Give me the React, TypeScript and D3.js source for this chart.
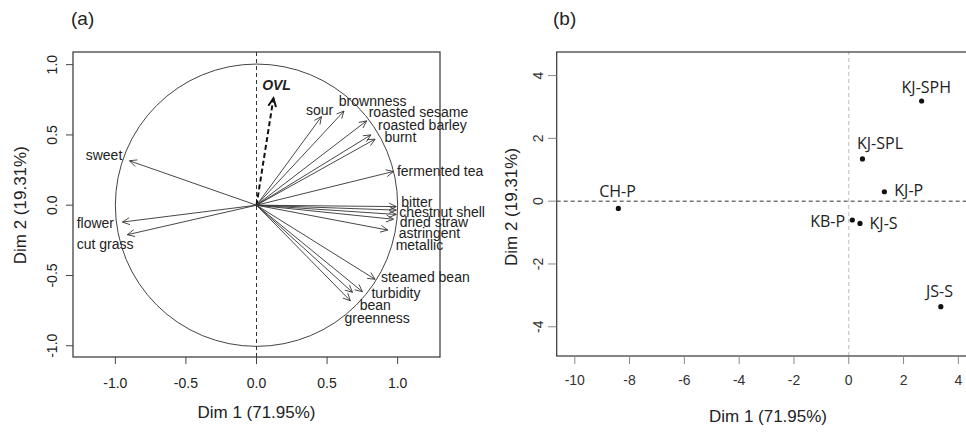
import React, { useEffect, useRef } from "react";
import * as d3 from "d3";

// panel (a): variable loadings on Dim 1 / Dim 2
const varNames = [
  "OVL", "sour", "brownness", "roasted sesame", "roasted barley", "burnt",
  "fermented tea", "bitter", "chestnut shell", "dried straw", "astringent",
  "metallic", "steamed bean", "turbidity", "bean", "greenness",
  "sweet", "flower", "cut grass",
];
const varDim1 = [0.12, 0.46, 0.62, 0.78, 0.81, 0.84, 0.97, 0.99, 0.99, 0.99, 0.97, 0.93, 0.84, 0.75, 0.68, 0.665, -0.9, -0.95, -0.915];
const varDim2 = [0.76, 0.63, 0.67, 0.6, 0.5, 0.47, 0.24, -0.01, -0.035, -0.066, -0.1, -0.177, -0.527, -0.615, -0.62, -0.68, 0.316, -0.12, -0.21];
// where R put the labels (left edge x, middle y, in data units)
const varLabelX = [0.04, 0.35, 0.583, 0.795, 0.861, 0.906, 0.995, 1.026, 1.012, 1.014, 1.007, 0.986, 0.882, 0.814, 0.731, 0.623, -1.21, -1.274, -1.274];
const varLabelY = [0.854, 0.677, 0.743, 0.66, 0.571, 0.488, 0.24, 0.026, -0.05, -0.12, -0.196, -0.285, -0.514, -0.627, -0.708, -0.804, 0.358, -0.125, -0.278];
const loadTicks = [-1.0, -0.5, 0.0, 0.5, 1.0];

// panel (b): sample scores
const sampleNames = ["KJ-SPH", "KJ-SPL", "KJ-P", "CH-P", "KB-P", "KJ-S", "JS-S"];
const sampleDim1 = [2.66, 0.5, 1.3, -8.41, 0.13, 0.41, 3.36];
const sampleDim2 = [3.19, 1.345, 0.3, -0.23, -0.6, -0.71, -3.36];
const sampleLabelX = [2.83, 1.14, 2.19, -8.44, -0.77, 1.27, 3.31];
const sampleLabelY = [3.65, 1.85, 0.35, 0.32, -0.625, -0.71, -2.85];
const scoreXTicks = [-10, -8, -6, -4, -2, 0, 2, 4];
const scoreYTicks = [-4, -2, 0, 2, 4];

const font = "'Liberation Sans', Arial, sans-serif";

const App = () => {
  const svgRef = useRef<SVGSVGElement>(null);

  useEffect(() => {
    const svg = d3.select(svgRef.current);
    svg.selectAll("*").remove();

    // ---------- (a) ----------
    const xA = d3.scaleLinear().domain([-1.3, 1.3]).range([73, 440]);
    const yA = d3.scaleLinear().domain([-1.08, 1.09]).range([357, 52]);
    const gA = svg.append("g");

    gA.append("text").attr("x", 71).attr("y", 25).text("(a)")
      .attr("font-size", 19).attr("font-family", font).attr("fill", "#222");

    // unit circle
    gA.append("circle")
      .attr("cx", xA(0)).attr("cy", yA(0))
      .attr("r", xA(1) - xA(0))
      .attr("fill", "none").attr("stroke", "#444").attr("stroke-width", 1);

    gA.append("line")
      .attr("x1", xA(0)).attr("x2", xA(0)).attr("y1", yA.range()[0]).attr("y2", yA.range()[1])
      .attr("stroke", "#333").attr("stroke-dasharray", "4,3");

    const arrowHead = (x0: number, y0: number, x1: number, y1: number, len: number) => {
      const a = Math.atan2(y1 - y0, x1 - x0);
      const s = Math.PI / 7;
      return `M${x1 - len * Math.cos(a - s)},${y1 - len * Math.sin(a - s)}L${x1},${y1}L${x1 - len * Math.cos(a + s)},${y1 - len * Math.sin(a + s)}`;
    };

    varNames.forEach((name, i) => {
      const x0 = xA(0), y0 = yA(0), x1 = xA(varDim1[i]), y1 = yA(varDim2[i]);
      const ovl = name === "OVL";
      gA.append("line")
        .attr("x1", x0).attr("y1", y0).attr("x2", x1).attr("y2", y1)
        .attr("stroke", ovl ? "#111" : "#333")
        .attr("stroke-width", ovl ? 2 : 0.9)
        .attr("stroke-dasharray", ovl ? "5,3" : null);
      gA.append("path")
        .attr("d", arrowHead(x0, y0, x1, y1, ovl ? 9 : 8))
        .attr("fill", "none")
        .attr("stroke", ovl ? "#111" : "#333")
        .attr("stroke-width", ovl ? 2 : 0.9);
      gA.append("text")
        .attr("x", xA(varLabelX[i])).attr("y", yA(varLabelY[i]))
        .attr("dominant-baseline", "central")
        .attr("font-family", font)
        .attr("font-size", 14)
        .attr("font-weight", ovl ? "bold" : null)
        .attr("font-style", ovl ? "italic" : null)
        .attr("fill", "#222")
        .text(name);
    });

    gA.append("rect")
      .attr("x", 73).attr("y", 52).attr("width", 367).attr("height", 305)
      .attr("fill", "none").attr("stroke", "#333").attr("stroke-width", 1.2);

    gA.selectAll(".xt").data(loadTicks).join("line")
      .attr("x1", (d) => xA(d)).attr("x2", (d) => xA(d)).attr("y1", 357).attr("y2", 364)
      .attr("stroke", "#444");
    gA.selectAll(".xl").data(loadTicks).join("text")
      .attr("x", (d) => xA(d)).attr("y", 383)
      .attr("text-anchor", "middle").attr("dominant-baseline", "central")
      .attr("font-family", font).attr("font-size", 14).attr("fill", "#222")
      .text((d) => d.toFixed(1));
    gA.selectAll(".yt").data(loadTicks).join("line")
      .attr("y1", (d) => yA(d)).attr("y2", (d) => yA(d)).attr("x1", 73).attr("x2", 66)
      .attr("stroke", "#444");
    gA.selectAll(".yl").data(loadTicks).join("text")
      .attr("transform", (d) => `translate(52,${yA(d)}) rotate(-90)`)
      .attr("text-anchor", "middle").attr("dominant-baseline", "central")
      .attr("font-family", font).attr("font-size", 14).attr("fill", "#222")
      .text((d) => d.toFixed(1));

    gA.append("text").attr("x", xA(0)).attr("y", 412)
      .attr("text-anchor", "middle").attr("dominant-baseline", "central")
      .attr("font-family", font).attr("font-size", 17).attr("fill", "#222")
      .text("Dim 1 (71.95%)");
    gA.append("text").attr("transform", `translate(20,${yA(0)}) rotate(-90)`)
      .attr("text-anchor", "middle").attr("dominant-baseline", "central")
      .attr("font-family", font).attr("font-size", 17).attr("fill", "#222")
      .text("Dim 2 (19.31%)");

    // ---------- (b) ----------
    const xB = d3.scaleLinear().domain([-10.66, 4.4]).range([556.7, 969.3]);
    const yB = d3.scaleLinear().domain([-4.93, 4.75]).range([356, 52]);
    const gB = svg.append("g");

    gB.append("text").attr("x", 553).attr("y", 25).text("(b)")
      .attr("font-size", 19).attr("font-family", font).attr("fill", "#222");

    gB.append("line")
      .attr("x1", xB(0)).attr("x2", xB(0)).attr("y1", 356).attr("y2", 52)
      .attr("stroke", "#bbb").attr("stroke-dasharray", "4,3");
    gB.append("line")
      .attr("y1", yB(0)).attr("y2", yB(0)).attr("x1", 556.7).attr("x2", 969)
      .attr("stroke", "#333").attr("stroke-dasharray", "4,3");

    gB.append("rect")
      .attr("x", 556.7).attr("y", 52).attr("width", 420).attr("height", 304)
      .attr("fill", "none").attr("stroke", "#333").attr("stroke-width", 1.2);

    gB.selectAll(".pt").data(sampleNames).join("circle")
      .attr("cx", (_, i) => xB(sampleDim1[i]))
      .attr("cy", (_, i) => yB(sampleDim2[i]))
      .attr("r", 2.6).attr("fill", "#111");
    gB.selectAll(".lb").data(sampleNames).join("text")
      .attr("x", (_, i) => xB(sampleLabelX[i]))
      .attr("y", (_, i) => yB(sampleLabelY[i]))
      .attr("text-anchor", "middle").attr("dominant-baseline", "central")
      .attr("font-family", "'Open Sans', sans-serif").attr("font-size", 16).attr("fill", "#222")
      .text((d) => d);

    gB.selectAll(".xt").data(scoreXTicks).join("line")
      .attr("x1", (d) => xB(d)).attr("x2", (d) => xB(d)).attr("y1", 356).attr("y2", 364)
      .attr("stroke", "#888");
    gB.selectAll(".xl").data(scoreXTicks).join("text")
      .attr("x", (d) => xB(d)).attr("y", 380)
      .attr("text-anchor", "middle").attr("dominant-baseline", "central")
      .attr("font-family", font).attr("font-size", 14).attr("fill", "#333")
      .text((d) => String(d));
    gB.selectAll(".yt").data(scoreYTicks).join("line")
      .attr("y1", (d) => yB(d)).attr("y2", (d) => yB(d)).attr("x1", 556.7).attr("x2", 548)
      .attr("stroke", "#888");
    gB.selectAll(".yl").data(scoreYTicks).join("text")
      .attr("transform", (d) => `translate(538,${yB(d)}) rotate(-90)`)
      .attr("text-anchor", "middle").attr("dominant-baseline", "central")
      .attr("font-family", font).attr("font-size", 14).attr("fill", "#333")
      .text((d) => String(d));

    gB.append("text").attr("x", 768).attr("y", 416)
      .attr("text-anchor", "middle").attr("dominant-baseline", "central")
      .attr("font-family", font).attr("font-size", 17).attr("fill", "#222")
      .text("Dim 1 (71.95%)");
    gB.append("text").attr("transform", `translate(511,207) rotate(-90)`)
      .attr("text-anchor", "middle").attr("dominant-baseline", "central")
      .attr("font-family", font).attr("font-size", 17).attr("fill", "#222")
      .text("Dim 2 (19.31%)");
  }, []);

  return (
    <svg
      ref={svgRef}
      width={966}
      height={433}
      style={{ position: "absolute", left: 0, top: 0, background: "#fff" }}
    />
  );
};

export default App;
